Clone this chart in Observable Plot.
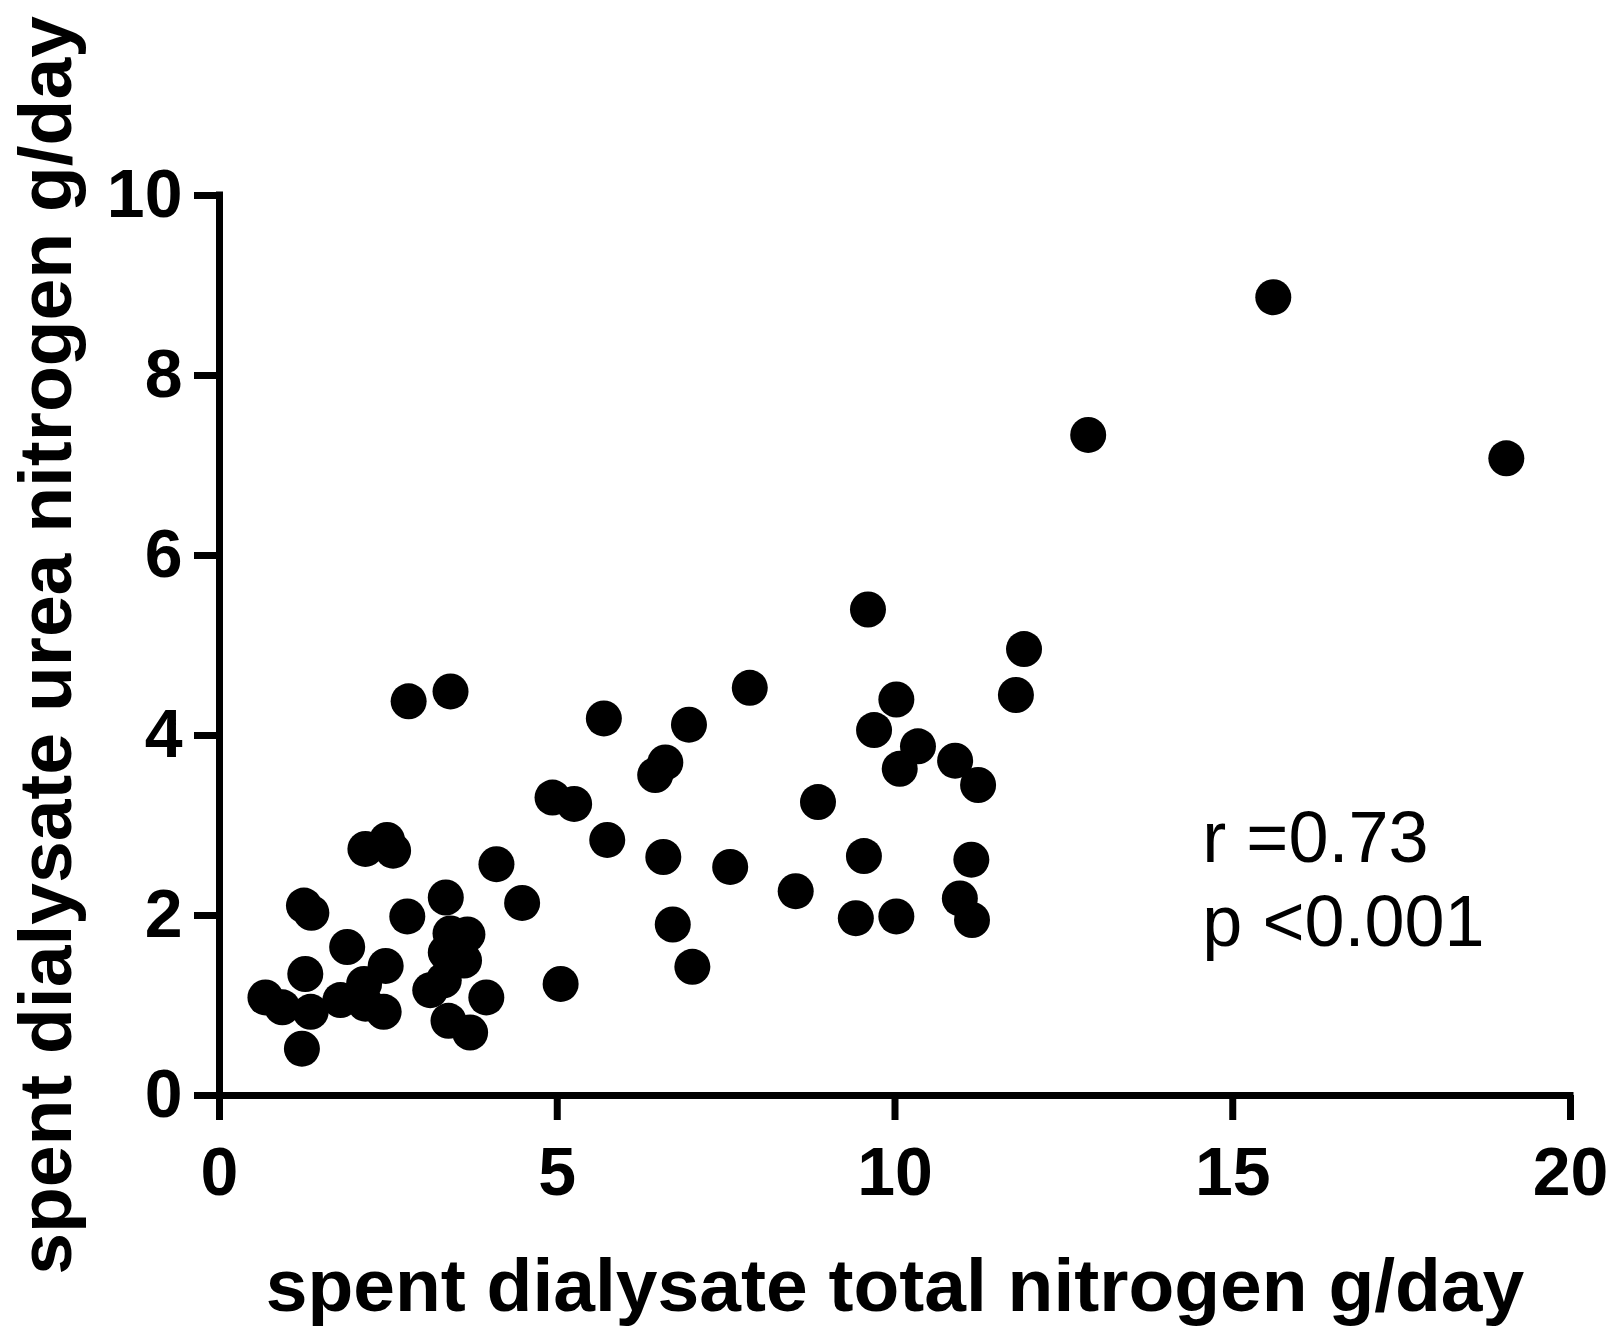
<!DOCTYPE html>
<html>
<head>
<meta charset="utf-8">
<script src="https://cdn.jsdelivr.net/npm/d3@7"></script>
<script src="https://cdn.jsdelivr.net/npm/@observablehq/plot@0.6"></script>
<style>
  html, body { margin: 0; padding: 0; background: #fff; }
</style>
</head>
<body>
<div id="chart"></div>
<script>
// spent dialysate total nitrogen (g/day)
const totalNitrogen = [
  0.68, 0.93, 1.25, 1.36, 1.27, 1.35, 1.22, 1.79, 1.89, 2.16,
  2.48, 2.57, 2.14, 2.16, 2.46, 2.43, 2.78, 2.80, 3.42, 3.35,
  3.12, 3.32, 3.42, 3.67, 3.35, 3.62, 3.39, 3.71, 3.95, 4.10,
  4.48, 4.93, 5.25, 5.05, 5.69, 5.74, 6.45, 6.60, 6.57, 6.71,
  7.00, 6.95, 7.56, 7.85, 8.53, 8.86, 9.42, 9.54, 9.60, 9.69,
  10.02, 10.07, 10.02, 10.34, 10.89, 11.23, 10.96, 11.14, 11.13, 11.79,
  11.91, 12.86, 15.60, 19.05
];
// spent dialysate urea nitrogen (g/day)
const ureaNitrogen = [
  1.09, 0.98, 2.11, 2.03, 1.35, 0.93, 0.52, 1.06, 1.65, 2.74,
  2.84, 2.72, 1.24, 1.02, 1.44, 0.93, 1.99, 4.38, 4.49, 2.20,
  1.17, 1.28, 1.80, 1.79, 1.59, 1.50, 0.83, 0.70, 1.09, 2.57,
  2.14, 3.31, 3.24, 1.24, 4.19, 2.84, 3.56, 3.70, 2.65, 1.90,
  1.43, 4.12, 2.54, 4.53, 2.27, 3.26, 1.97, 2.66, 5.40, 4.06,
  4.40, 3.63, 1.99, 3.88, 3.72, 3.45, 2.19, 1.95, 2.62, 4.45,
  4.96, 7.34, 8.87, 7.08
];
const xTicks = [0, 5, 10, 15, 20];
const yTicks = [0, 2, 4, 6, 8, 10];
const xTitle = "spent dialysate total nitrogen g/day";
const yTitle = "spent dialysate urea nitrogen g/day";
const statLines = ["r =0.73\np <0.001"];
const statPos = [{x: 14.55, y: 3.27}];

const points = totalNitrogen.map((x, i) => ({x, y: ureaNitrogen[i]}));
const annotation = statPos.map((p, i) => ({...p, text: statLines[i]}));

const chart = Plot.plot({
  width: 1612,
  height: 1326,
  marginLeft: 219,
  marginRight: 42,
  marginTop: 195,
  marginBottom: 231,
  style: {fontFamily: "'Liberation Sans', Arial, Helvetica, sans-serif", color: "black", background: "white"},
  x: {domain: [0, 20]},
  y: {domain: [0, 10]},
  marks: [
    Plot.axisX({ticks: xTicks, tickSize: 25, tickPadding: 26, strokeWidth: 7, fontSize: 68, fontWeight: "bold", label: null, tickFormat: d3.format("d")}),
    Plot.axisY({ticks: yTicks, tickSize: 25, tickPadding: 12, strokeWidth: 7, fontSize: 68, fontWeight: "bold", label: null, tickFormat: d3.format("d")}),
    Plot.ruleY([0], {stroke: "black", strokeWidth: 7, strokeLinecap: "square"}),
    Plot.ruleX([0], {stroke: "black", strokeWidth: 7, strokeLinecap: "square"}),
    Plot.dot(points, {x: "x", y: "y", r: 18, fill: "black", stroke: "none"}),
    Plot.text(annotation, {x: "x", y: "y", text: "text", textAnchor: "start", lineAnchor: "top", lineHeight: 1.18, fontSize: 72, fill: "black"}),
    Plot.text([xTitle], {frameAnchor: "bottom", dy: 191, textAnchor: "middle", lineAnchor: "middle", fontSize: 75, fontWeight: "bold", fill: "black"}),
    Plot.text([yTitle], {frameAnchor: "left", dx: -173, rotate: -90, textAnchor: "middle", lineAnchor: "middle", fontSize: 75, fontWeight: "bold", fill: "black"})
  ]
});
document.getElementById("chart").appendChild(chart);
</script>
</body>
</html>
